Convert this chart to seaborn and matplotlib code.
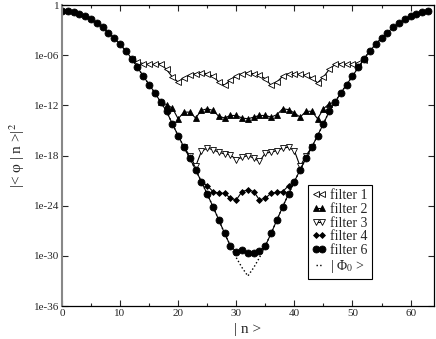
import numpy as np
import pandas as pd
import seaborn as sns
import matplotlib.pyplot as plt
from matplotlib.ticker import FixedLocator, FixedFormatter, MultipleLocator, NullLocator

# log10 |<phi|n>|^2
phi0_log = [-0.68, -0.76, -0.88, -1.08, -1.36, -1.72, -2.16, -2.68, -3.28, -3.96,
            -4.68, -5.48, -6.40, -7.45, -8.50, -9.50, -10.5, -11.6, -12.7, -14.2,
            -15.6, -17.0, -18.3, -19.7, -21.1, -22.6, -24.1, -25.7, -27.3, -28.8,
            -30.2, -31.4, -32.4, -31.4, -30.2, -28.8, -27.3, -25.7, -24.1, -22.6,
            -21.1, -19.7, -18.3, -17.0, -15.6, -14.2, -12.7, -11.6, -10.5, -9.50,
            -8.50, -7.45, -6.40, -5.48, -4.68, -3.96, -3.28, -2.68, -2.16, -1.72,
            -1.36, -1.08, -0.88, -0.76]

filter6_log = [-0.68, -0.76, -0.88, -1.08, -1.36, -1.72, -2.16, -2.68, -3.28, -3.96,
               -4.68, -5.48, -6.40, -7.45, -8.50, -9.50, -10.5, -11.6, -12.7, -14.2,
               -15.6, -17.0, -18.3, -19.7, -21.1, -22.6, -24.1, -25.7, -27.3, -28.8,
               -29.5, -29.3, -29.7, -29.7, -29.4, -28.8, -27.3, -25.7, -24.1, -22.6,
               -21.1, -19.7, -18.3, -17.0, -15.6, -14.2, -12.7, -11.6, -10.5, -9.50,
               -8.50, -7.45, -6.40, -5.48, -4.68, -3.96, -3.28, -2.68, -2.16, -1.72,
               -1.36, -1.08, -0.88, -0.76]

# filters only where they leave the main curve (start index + values)
filter1_start = 12
filter1_log = [-6.4, -6.8, -7.0, -7.1, -7.1, -7.0, -7.7, -8.6, -9.2, -8.7,
               -8.4, -8.2, -8.1, -8.2, -8.5, -9.2, -9.6, -8.9, -8.5, -8.2,
               -8.1, -8.2, -8.4, -8.8, -9.6, -9.2, -8.5, -8.2, -8.2, -8.3,
               -8.4, -8.7, -9.3, -8.6, -7.7, -7.1, -7.0, -7.1, -7.1, -6.9,
               -6.6]

filter2_start = 17
filter2_log = [-11.6, -11.9, -12.3, -13.6, -12.8, -12.8, -13.5, -12.6, -12.4, -12.6,
               -13.3, -13.5, -13.2, -13.2, -13.5, -13.6, -13.4, -13.2, -13.2, -13.4,
               -13.1, -12.4, -12.5, -12.9, -13.4, -12.7, -12.7, -13.6, -12.4, -11.8,
               -11.6]

filter3_start = 21
filter3_log = [-17.0, -18.0, -19.3, -17.5, -17.1, -17.3, -17.6, -17.8, -17.9, -18.5,
               -18.2, -18.0, -18.3, -18.7, -17.7, -17.6, -17.4, -17.1, -17.0, -17.4,
               -19.3, -18.0, -17.0]

filter4_start = 24
filter4_log = [-21.1, -21.6, -22.3, -22.5, -22.5, -23.1, -23.3, -22.3, -22.1, -22.3,
               -23.3, -23.1, -22.5, -22.4, -22.3, -21.6, -21.1]

ytick_vals = [1, 1e-6, 1e-12, 1e-18, 1e-24, 1e-30, 1e-36]
ytick_labels = ['1', '1e-06', '1e-12', '1e-18', '1e-24', '1e-30', '1e-36']

sns.set_style('ticks')
plt.rcParams['font.family'] = ['Liberation Serif', 'DejaVu Serif']
plt.rcParams['mathtext.fontset'] = 'stix'

fig = plt.figure(figsize=(4.36, 3.39), dpi=100)
ax = fig.add_axes([0.142, 0.097, 0.853, 0.888])

series = [
    ('filter 1', filter1_start, filter1_log, dict(marker='<', markersize=4.2, markerfacecolor='white')),
    ('filter 2', filter2_start, filter2_log, dict(marker='^', markersize=4.2, markerfacecolor='black')),
    ('filter 3', filter3_start, filter3_log, dict(marker='v', markersize=4.2, markerfacecolor='white')),
    ('filter 4', filter4_start, filter4_log, dict(marker='D', markersize=3, markerfacecolor='black')),
    ('filter 6', 0, filter6_log, dict(marker='o', markersize=5, markerfacecolor='black')),
]

for label, start, vals, style in series:
    df = pd.DataFrame({'n': np.arange(start, start + len(vals)),
                       'p': 10.0 ** np.array(vals)})
    sns.lineplot(data=df, x='n', y='p', ax=ax, color='black', lw=0.8,
                 markeredgecolor='black', markeredgewidth=0.6, label=label, **style)

df = pd.DataFrame({'n': np.arange(len(phi0_log)), 'p': 10.0 ** np.array(phi0_log)})
sns.lineplot(data=df, x='n', y='p', ax=ax, color='black', lw=1.0, linestyle=':',
             label='| Φ$_0$ >')

ax.set_yscale('log')
ax.set_xlim(0, 64)
ax.set_ylim(1e-36, 1)
ax.yaxis.set_major_locator(FixedLocator(ytick_vals))
ax.yaxis.set_major_formatter(FixedFormatter(ytick_labels))
ax.yaxis.set_minor_locator(NullLocator())
ax.xaxis.set_major_locator(MultipleLocator(10))
ax.xaxis.set_minor_locator(MultipleLocator(5))
ax.tick_params(which='both', direction='in', top=True, right=True, labelsize=8, pad=2, width=0.8)
ax.tick_params(which='major', length=4.5)
ax.tick_params(which='minor', length=2.2)

for s in ['top', 'right', 'bottom']:
    ax.spines[s].set_color('black')
    ax.spines[s].set_linewidth(0.9)
ax.spines['left'].set_color('#888888')
ax.spines['left'].set_linewidth(1.5)

ax.set_xlabel('| n >', fontsize=11, labelpad=4)
ax.set_ylabel('|< φ | n >|$^2$', fontsize=11, labelpad=5)

leg = ax.legend(loc='upper left', bbox_to_anchor=(0.661, 0.402), fontsize=10,
                numpoints=2, handlelength=1.0, handletextpad=0.3, borderpad=0.3,
                labelspacing=0.05, fancybox=False, framealpha=1, edgecolor='black',
                borderaxespad=0)
leg.get_frame().set_linewidth(0.8)

fig.savefig('out.png', dpi=100)
